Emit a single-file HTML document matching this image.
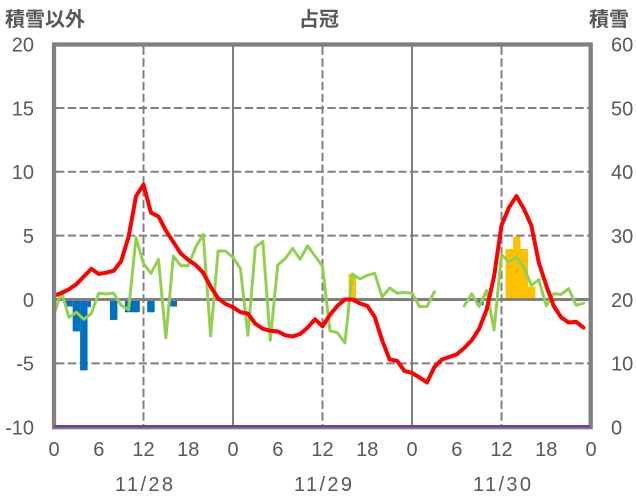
<!DOCTYPE html>
<html><head><meta charset="utf-8">
<style>
html,body{margin:0;padding:0;background:#fff;}
svg{display:block;}
text{font-family:"Liberation Sans","Noto Sans CJK JP",sans-serif;fill:#595959;}
.t{font-size:20px;font-weight:bold;}
.k{font-size:20px;}
</style></head><body>
<svg width="636" height="501" viewBox="0 0 636 501" xmlns="http://www.w3.org/2000/svg">
<rect width="636" height="501" fill="#fff"/>
<g stroke="#808080" stroke-width="2" stroke-dasharray="8.4 3.4" fill="none">
<line x1="56" y1="107.95" x2="589" y2="107.95"/>
<line x1="56" y1="171.8" x2="589" y2="171.8"/>
<line x1="56" y1="235.65" x2="589" y2="235.65"/>
<line x1="56" y1="363.35" x2="589" y2="363.35"/>
<line x1="143.5" y1="46.5" x2="143.5" y2="425"/>
<line x1="322.5" y1="46.5" x2="322.5" y2="425"/>
<line x1="501.5" y1="46.5" x2="501.5" y2="425"/>
</g>
<g stroke="#808080" stroke-width="2" fill="none">
<line x1="233" y1="46" x2="233" y2="426"/>
<line x1="412" y1="46" x2="412" y2="426"/>
</g>
<g transform="translate(54,299.5) scale(7.4583,-12.77)">
<g fill="#0070c0">
<rect x="1.5" y="-0.55" width="1" height="0.55"/>
<rect x="2.5" y="-2.5" width="1" height="2.5"/>
<rect x="3.5" y="-5.55" width="1" height="5.55"/>
<rect x="4.5" y="-0.6" width="0.45" height="0.6"/>
<rect x="7.5" y="-1.6" width="1" height="1.6"/>
<rect x="9.5" y="-1.0" width="2" height="1.0"/>
<rect x="12.5" y="-1.0" width="1" height="1.0"/>
<rect x="15.5" y="-0.55" width="1" height="0.55"/>
<rect x="56.6" y="-0.45" width="1" height="0.45"/>
</g>
<g fill="#ffc000">
<rect x="39.5" y="0" width="1" height="2.0"/>
<rect x="60.55" y="0" width="1" height="3.96"/>
<rect x="61.55" y="0" width="1" height="4.92"/>
<rect x="62.55" y="0" width="1" height="3.96"/>
<rect x="63.55" y="0" width="1" height="1.0"/>
</g>
</g>
<line x1="56" y1="299.5" x2="589" y2="299.5" stroke="#808080" stroke-width="3"/>
<g transform="translate(54,299.5) scale(7.4583,-12.77)" fill="none" stroke-linejoin="round" stroke-linecap="round">
<polyline vector-effect="non-scaling-stroke" stroke="#92d050" stroke-width="3" points="0,-1.2 1,0.65 2,-1.4 3,-1.0 4,-1.55 5,-1.1 6,0.5 7,0.43 8,0.5 9,-0.45 10,-0.8 11,4.85 12,2.8 13,2.05 14,3.15 15,-3.0 16,3.4 17,2.65 18,2.65 19,4.1 20,5.1 21,-2.85 22,3.8 23,3.8 24,3.3 25,2.4 26,-2.8 27,4.1 28,4.55 29,-3.2 30,2.7 31,3.2 32,4.0 33,3.15 34,4.2 35,3.4 36,2.6 37,-2.45 38,-2.6 39,-3.4 40,2.0 41,1.6 42,1.9 43,2.05 44,0.2 45,0.9 46,0.5 47,0.55 48,0.5 49,-0.55 50,-0.55 51,0.6"/>
<polyline vector-effect="non-scaling-stroke" stroke="#92d050" stroke-width="3" points="55,-0.5 56,0.45 57,-0.55 58,0.7 59,-2.4 60,3.5 61,2.95 62,3.3 63,2.55 64,1.1 65,1.55 66,-0.5 67,0.45 68,0.4 69,0.85 70,-0.45 71,-0.3"/>
<polyline vector-effect="non-scaling-stroke" stroke="#ff0000" stroke-width="4" points="0,0.3 1,0.5 2,0.8 3,1.2 4,1.8 5,2.4 6,2.0 7,2.1 8,2.25 9,3.0 10,4.9 11,8.1 12,9.0 13,6.8 14,6.5 15,5.4 16,4.5 17,3.6 18,3.1 19,2.7 20,2.1 21,1.0 22,0.1 23,-0.35 24,-0.6 25,-1.0 26,-1.1 27,-1.9 28,-2.3 29,-2.45 30,-2.5 31,-2.8 32,-2.9 33,-2.7 34,-2.2 35,-1.55 36,-2.1 37,-1.2 38,-0.5 39,0 40,0 41,-0.3 42,-0.5 43,-1.35 44,-3.2 45,-4.7 46,-4.8 47,-5.6 48,-5.75 49,-6.1 50,-6.5 51,-5.3 52,-4.7 53,-4.5 54,-4.3 55,-3.8 56,-3.2 57,-2.3 58,-0.8 59,1.8 60,5.8 61,7.2 62,8.1 63,7.1 64,5.8 65,2.9 66,1.1 67,-0.5 68,-1.4 69,-1.8 70,-1.75 71,-2.2"/>
</g>
<rect x="54" y="44.5" width="536.7" height="382.7" fill="none" stroke="#808080" stroke-width="4.3"/>
<line x1="54" y1="426.3" x2="590" y2="426.3" stroke="#7030a0" stroke-width="2"/>
<text class="t" x="5" y="26">積雪以外</text>
<text class="t" x="319" y="26" text-anchor="middle">占冠</text>
<text class="t" x="589" y="26">積雪</text>
<g text-anchor="end">
<text class="k" x="34" y="51.5">20</text>
<text class="k" x="34" y="115.3">15</text>
<text class="k" x="34" y="179.2">10</text>
<text class="k" x="34" y="243">5</text>
<text class="k" x="34" y="306.9">0</text>
<text class="k" x="34" y="370.7">-5</text>
<text class="k" x="34" y="434.5">-10</text>
</g>
<text class="k" x="611" y="51.5">60</text>
<text class="k" x="611" y="115.3">50</text>
<text class="k" x="611" y="179.2">40</text>
<text class="k" x="611" y="243">30</text>
<text class="k" x="611" y="306.9">20</text>
<text class="k" x="611" y="370.7">10</text>
<text class="k" x="611" y="434.5">0</text>
<g text-anchor="middle">
<text class="k" x="54" y="456" text-anchor="middle">0</text>
<text class="k" x="98.75" y="456" text-anchor="middle">6</text>
<text class="k" x="143.5" y="456" text-anchor="middle">12</text>
<text class="k" x="188.25" y="456" text-anchor="middle">18</text>
<text class="k" x="233" y="456" text-anchor="middle">0</text>
<text class="k" x="277.75" y="456" text-anchor="middle">6</text>
<text class="k" x="322.5" y="456" text-anchor="middle">12</text>
<text class="k" x="367.25" y="456" text-anchor="middle">18</text>
<text class="k" x="412" y="456" text-anchor="middle">0</text>
<text class="k" x="456.75" y="456" text-anchor="middle">6</text>
<text class="k" x="501.5" y="456" text-anchor="middle">12</text>
<text class="k" x="546.25" y="456" text-anchor="middle">18</text>
<text class="k" x="591" y="456" text-anchor="middle">0</text>
</g>
<text class="k" x="115" y="491" textLength="58" lengthAdjust="spacing">11/28</text>
<text class="k" x="294" y="491" textLength="58" lengthAdjust="spacing">11/29</text>
<text class="k" x="473" y="491" textLength="58" lengthAdjust="spacing">11/30</text>
</svg>
</body></html>
